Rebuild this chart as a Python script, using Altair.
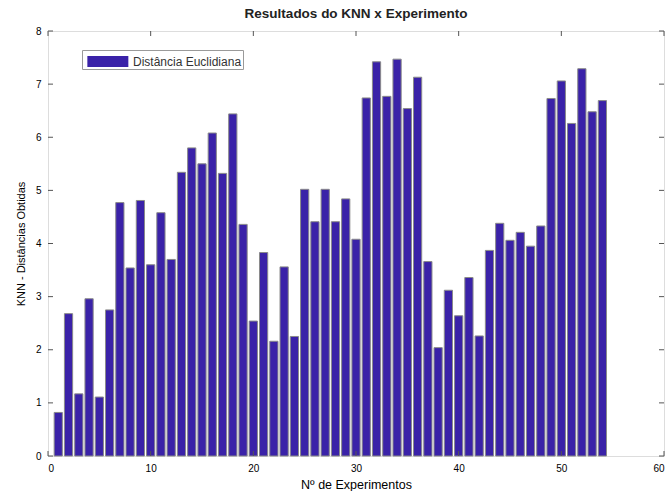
import altair as alt
import pandas as pd

experimentos = list(range(1, 55))
distancias = [
    0.82, 2.68, 1.17, 2.96, 1.11, 2.75, 4.77, 3.54, 4.81, 3.60,
    4.58, 3.70, 5.34, 5.80, 5.50, 6.08, 5.32, 6.44, 4.36, 2.54,
    3.83, 2.16, 3.56, 2.25, 5.02, 4.41, 5.02, 4.41, 4.84, 4.08,
    6.74, 7.42, 6.77, 7.47, 6.54, 7.13, 3.66, 2.04, 3.12, 2.64,
    3.36, 2.26, 3.87, 4.38, 4.06, 4.21, 3.95, 4.33, 6.73, 7.06,
    6.26, 7.29, 6.48, 6.69,
]
serie = "Distância Euclidiana"
x_ticks = [0, 10, 20, 30, 40, 50, 60]
y_ticks = [0, 1, 2, 3, 4, 5, 6, 7, 8]

W, H = 616, 425
FONT = "Liberation Sans"

df = pd.DataFrame({"exp": experimentos, "dist": distancias})
df["x0"] = df["exp"] - 0.4
df["x1"] = df["exp"] + 0.4
df["serie"] = serie

xs = alt.Scale(domain=[0, 60], nice=False, zero=False)
ys = alt.Scale(domain=[0, 8], nice=False)

bars = alt.Chart(df).mark_rect(stroke="#8a8a8a", strokeWidth=1, opacity=1).encode(
    x=alt.X("x0:Q", scale=xs,
            axis=alt.Axis(values=x_ticks, title="Nº de Experimentos", tickSize=0,
                          domain=False, grid=False, labelPadding=7, titlePadding=5,
                          titleFontWeight="normal", titleFontSize=12.5)),
    x2="x1:Q",
    y=alt.Y("dist:Q", scale=ys,
            axis=alt.Axis(values=y_ticks, title="KNN - Distâncias Obtidas", tickSize=0,
                          domain=False, grid=False, labelPadding=7, titlePadding=9,
                          titleFontWeight="normal", titleFontSize=11)),
    y2=alt.datum(0),
    color=alt.Color("serie:N", scale=alt.Scale(range=["#3a22a8"]),
                    legend=alt.Legend(title=None, orient="none", legendX=34, legendY=19,
                                      symbolType="M-0.6,-0.535H3.4V0.535H-0.6Z", symbolSize=420,
                                      symbolStrokeWidth=0,
                                      strokeColor="#9a9a9a", fillColor="white",
                                      padding=1, labelFont=FONT, labelFontSize=12,
                                      labelColor="#333", labelOffset=29, labelLimit=250)),
)

xt = pd.DataFrame({"t": x_ticks})
yt = pd.DataFrame({"t": y_ticks})
tick_style = dict(color="#555", strokeWidth=1)

bottom_ticks = alt.Chart(xt).mark_rule(**tick_style).encode(
    x=alt.X("t:Q", scale=xs), y=alt.value(H), y2=alt.value(H - 5))
top_ticks = alt.Chart(xt).mark_rule(**tick_style).encode(
    x=alt.X("t:Q", scale=xs), y=alt.value(0), y2=alt.value(5))
left_ticks = alt.Chart(yt).mark_rule(**tick_style).encode(
    y=alt.Y("t:Q", scale=ys), x=alt.value(0), x2=alt.value(5))
right_ticks = alt.Chart(yt).mark_rule(**tick_style).encode(
    y=alt.Y("t:Q", scale=ys), x=alt.value(W), x2=alt.value(W - 5))

chart = alt.layer(bars, bottom_ticks, top_ticks, left_ticks, right_ticks).properties(
    width=W, height=H,
    title=alt.TitleParams("Resultados do KNN x Experimento", font=FONT, fontSize=13.5,
                          fontWeight="bold", color="#222", offset=6),
    autosize=alt.AutoSizeParams(type="none"),
    padding={"left": 48, "top": 31, "right": 4, "bottom": 35},
).configure_view(stroke="#555", strokeWidth=1).configure_axis(
    labelFont=FONT, labelFontSize=11.5, labelColor="#444",
    titleFont=FONT, titleFontWeight="normal", titleColor="#333",
).configure(background="white")

chart.save("out.html", embed_options={"renderer": "svg", "actions": False})
